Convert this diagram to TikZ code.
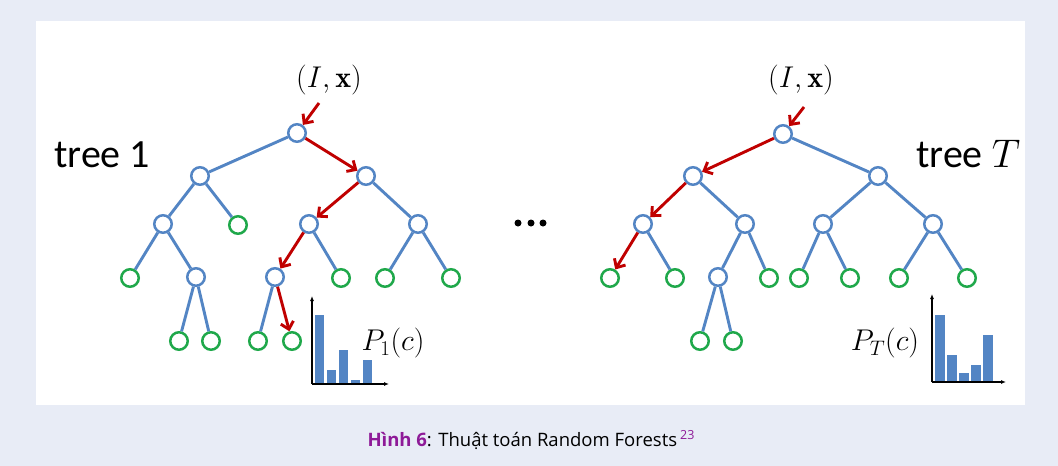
\RequirePackage{fix-cm}
\documentclass[tikz,border=0pt]{standalone}
\usepackage{fontspec}
\newfontfamily\capfont{Open Sans}
\newfontfamily\labelfont{Carlito}
\usetikzlibrary{arrows.meta}

\definecolor{pagebg}{HTML}{E8ECF6}
\definecolor{treeblue}{HTML}{5385C4}
\definecolor{leafgreen}{HTML}{1FA84A}
\definecolor{pathred}{HTML}{C00000}
\definecolor{capviolet}{HTML}{8E1A98}

\tikzset{
  inner/.style={circle, draw=treeblue, fill=white, line width=2.5pt, minimum size=17.5pt, inner sep=0pt},
  leaf/.style={circle, draw=leafgreen, fill=white, line width=2.5pt, minimum size=17.5pt, inner sep=0pt},
  edge/.style={draw=treeblue, line width=2.9pt},
  route/.style={draw=pathred, line width=2.9pt, -{Straight Barb[length=7pt,width=13pt]}},
  bar/.style={fill=treeblue, draw=none},
  axis/.style={draw=black, line width=1.1pt, -{Latex[length=5pt,width=4pt]}},
  mathlab/.style={inner sep=0pt, font=\fontsize{30}{36}\selectfont},
  treelab/.style={inner sep=0pt, anchor=base west, font=\labelfont\fontsize{40}{46}\selectfont},
  dot/.style={circle, fill=black, minimum size=7pt, inner sep=0pt}
}

\begin{document}
\begin{tikzpicture}[x=1pt, y=-1pt]
  % page and panel
  \fill[pagebg] (0,0) rectangle (1058,466);
  \fill[white] (36,21) rectangle (1025,405);
  \useasboundingbox (0,0) rectangle (1058,466);

  % ---------- tree 1 ----------
  \node[inner] (a0) at (297,133) {};
  \node[inner] (a1) at (200,176) {};
  \node[inner] (a2) at (366,176) {};
  \node[inner] (a3) at (163,224) {};
  \node[leaf]  (a4) at (238,225) {};
  \node[inner] (a5) at (309,224) {};
  \node[inner] (a6) at (418,224) {};
  \node[leaf]  (a7) at (130,278) {};
  \node[inner] (a8) at (196,277) {};
  \node[inner] (a9) at (275,277) {};
  \node[leaf]  (a10) at (341,278) {};
  \node[leaf]  (a11) at (385,278) {};
  \node[leaf]  (a12) at (451,278) {};
  \node[leaf]  (a13) at (179,341) {};
  \node[leaf]  (a14) at (211,341) {};
  \node[leaf]  (a15) at (258,341) {};
  \node[leaf]  (a16) at (292,341) {};

  \draw[edge] (a0) -- (a1);
  \draw[edge] (a1) -- (a3);
  \draw[edge] (a1) -- (a4);
  \draw[edge] (a2) -- (a6);
  \draw[edge] (a3) -- (a7);
  \draw[edge] (a3) -- (a8);
  \draw[edge] (a5) -- (a10);
  \draw[edge] (a6) -- (a11);
  \draw[edge] (a6) -- (a12);
  \draw[edge] (a8) -- (a13);
  \draw[edge] (a8) -- (a14);
  \draw[edge] (a9) -- (a15);

  \node[mathlab] (inA) at (329,80) {$(I,\mathbf{x})$};
  \coordinate (inAstart) at (319,103);
  \draw[route] (inAstart) -- (a0);
  \draw[route] (a0) -- (a2);
  \draw[route] (a2) -- (a5);
  \draw[route] (a5) -- (a9);
  \draw[route] (a9) -- (a16);

  \node[treelab] (tree1) at (54,167) {tree 1};

  % class histogram of tree 1
  \fill[bar] (315,383) rectangle (324,315);
  \fill[bar] (327,383) rectangle (336,370);
  \fill[bar] (339,383) rectangle (348,350);
  \fill[bar] (351,383) rectangle (360,380);
  \fill[bar] (363,383) rectangle (372,360);
  \draw[axis] (312,384) -- (312,296);
  \draw[axis] (312,384) -- (389,384);
  \node[mathlab] (p1) at (393,343) {$P_1(c)$};

  % ---------- dots ----------
  \node[dot] (d1) at (518,223) {};
  \node[dot] (d2) at (531,223) {};
  \node[dot] (d3) at (543,223) {};

  % ---------- tree T ----------
  \node[inner] (b0) at (783,134) {};
  \node[inner] (b1) at (693,176) {};
  \node[inner] (b2) at (878,176) {};
  \node[inner] (b3) at (643,224) {};
  \node[inner] (b4) at (745,224) {};
  \node[inner] (b5) at (823,224) {};
  \node[inner] (b6) at (933,224) {};
  \node[leaf]  (b7) at (610,278) {};
  \node[leaf]  (b8) at (675,278) {};
  \node[inner] (b9) at (718,277) {};
  \node[leaf]  (b10) at (769,278) {};
  \node[leaf]  (b11) at (799,278) {};
  \node[leaf]  (b12) at (850,278) {};
  \node[leaf]  (b13) at (899,278) {};
  \node[leaf]  (b14) at (967,278) {};
  \node[leaf]  (b15) at (700,341) {};
  \node[leaf]  (b16) at (733,341) {};

  \draw[edge] (b0) -- (b2);
  \draw[edge] (b1) -- (b4);
  \draw[edge] (b2) -- (b5);
  \draw[edge] (b2) -- (b6);
  \draw[edge] (b3) -- (b8);
  \draw[edge] (b4) -- (b9);
  \draw[edge] (b4) -- (b10);
  \draw[edge] (b5) -- (b11);
  \draw[edge] (b5) -- (b12);
  \draw[edge] (b6) -- (b13);
  \draw[edge] (b6) -- (b14);
  \draw[edge] (b9) -- (b15);
  \draw[edge] (b9) -- (b16);

  \node[mathlab] (inB) at (801,80) {$(I,\mathbf{x})$};
  \coordinate (inBstart) at (804,107);
  \draw[route] (inBstart) -- (b0);
  \draw[route] (b0) -- (b1);
  \draw[route] (b1) -- (b3);
  \draw[route] (b3) -- (b7);

  \node[treelab] (treeT) at (916,167) {tree $T$};

  % class histogram of tree T
  \fill[bar] (935,381) rectangle (945,315);
  \fill[bar] (947,381) rectangle (957,355);
  \fill[bar] (959,381) rectangle (969,373);
  \fill[bar] (971,381) rectangle (981,365);
  \fill[bar] (983,381) rectangle (993,335);
  \draw[axis] (932,382) -- (932,294);
  \draw[axis] (932,382) -- (1006,382);
  \node[mathlab] (pT) at (885,343) {$P_T(c)$};

  % ---------- caption ----------
  \node[inner sep=0pt, font=\capfont\fontsize{18.5}{22}\selectfont] (cap) at (531,440)
    {\textcolor{capviolet}{\textbf{Hình 6}}: Thuật toán Random Forests\,\raisebox{7pt}{\textcolor{capviolet}{\fontsize{12.5}{15}\selectfont 23}}};
\end{tikzpicture}
\end{document}
